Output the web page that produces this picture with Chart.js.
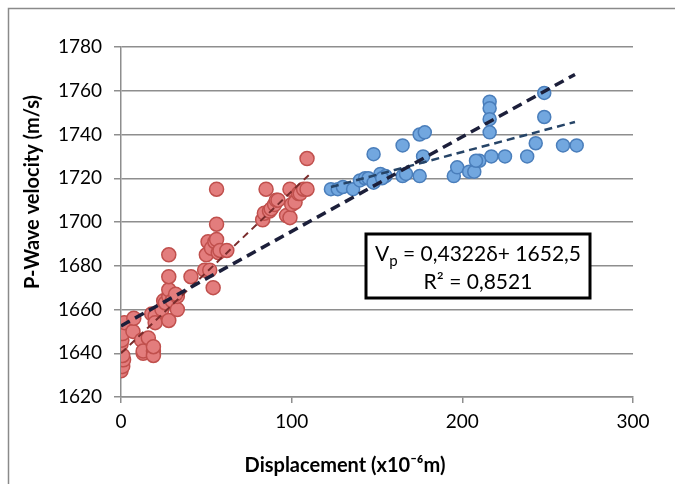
<!DOCTYPE html>
<html>
<head>
<meta charset="utf-8">
<script src="https://cdn.jsdelivr.net/npm/chart.js@4.4.0/dist/chart.umd.min.js"></script>
<style>
  html, body { margin: 0; padding: 0; background: #fff; }
  #wrap { position: relative; width: 675px; height: 484px; }
</style>
</head>
<body>
<div id="wrap"><canvas id="myChart" width="675" height="484"></canvas></div>
<script>
// Red points (early stage)
const redX = [0, 1, 1.5, 1, 0, 0.5, 1, 2, 7, 7.5, 12, 13, 13, 16, 19, 19, 19, 18, 20, 20,
  24, 25, 26, 28, 28, 28, 28, 28, 30, 33, 33, 32, 41, 49, 50, 51, 52, 53, 54, 55,
  56, 56, 56, 57, 58, 62, 83, 84, 85, 87, 88, 90, 91, 92, 97, 99, 99, 100, 102, 104,
  105, 107, 109, 109];
const redY = [1632, 1634, 1637, 1639, 1644, 1646, 1649, 1654, 1650, 1656, 1646, 1640, 1641, 1647, 1641, 1639, 1643, 1658, 1657, 1654,
  1660, 1664, 1663, 1666, 1669, 1675, 1685, 1655, 1664, 1660, 1666, 1667, 1675, 1678, 1685, 1691, 1678, 1688, 1670, 1691,
  1699, 1715, 1692, 1686, 1687, 1687, 1701, 1704, 1715, 1705, 1706, 1708, 1710, 1710, 1703, 1702, 1715, 1708, 1709, 1713,
  1713, 1715, 1715, 1729];

// Blue points (later stage)
const blueX = [123, 127, 130, 136, 140, 143, 145, 148, 148, 152, 155, 153, 165, 165, 167, 175, 175, 178, 177,
  195, 197, 204, 207, 210, 208, 216, 216, 216, 216, 217, 225, 238, 243, 248, 248, 259, 267];
const blueY = [1715, 1715, 1716, 1715, 1719, 1720, 1720, 1731, 1718, 1722, 1721, 1720, 1735, 1721, 1722, 1721, 1740, 1741, 1730,
  1721, 1725, 1723, 1723, 1728, 1728, 1755, 1752, 1747, 1741, 1730, 1730, 1730, 1736, 1759, 1748, 1735, 1735];

// Trend line end points
const fitAllX = [0, 266];
const fitAllY = [1652.5, 1652.5 + 0.4322 * 266];
const fitRedX = [0, 110];
const fitRedY = [1640, 1640 + 0.74 * 110];
const fitBlueX = [123, 266];
const fitBlueY = [1716, 1716 + 0.208 * (266 - 123)];

const yTicks = [1620, 1640, 1660, 1680, 1700, 1720, 1740, 1760, 1780];
const xTicks = [0, 100, 200, 300];

const xTitle = 'Displacement (x10⁻⁶m)';
const yTitle = 'P-Wave velocity (m/s)';

const pts = (xs, ys) => xs.map((x, i) => ({x: x, y: ys[i]}));

const FONT = 'Lato, "Liberation Sans", sans-serif';

// frame, axis titles and the equation box
const extras = {
  id: 'extras',
  beforeDraw(chart) {
    const c = chart.ctx;
    c.save();
    c.strokeStyle = '#8a8a8a';
    c.lineWidth = 1.5;
    c.beginPath();
    c.moveTo(8.5, 484);
    c.lineTo(8.5, 8.5);
    c.lineTo(675, 8.5);
    c.stroke();
    c.restore();
  },
  afterDraw(chart) {
    const c = chart.ctx;
    c.save();
    // axis titles
    c.fillStyle = '#000';
    c.font = 'bold 20px ' + FONT;
    c.textAlign = 'center';
    c.textBaseline = 'middle';
    c.fillText(xTitle, 345, 466);
    c.translate(33, 192);
    c.rotate(-Math.PI / 2);
    c.fillText(yTitle, 0, 0);
    c.restore();

    c.save();
    c.fillStyle = '#fff';
    c.fillRect(366, 234, 224, 64);
    c.strokeStyle = '#000';
    c.lineWidth = 3;
    c.strokeRect(366, 234, 224, 64);
    c.fillStyle = '#000';
    c.textBaseline = 'alphabetic';
    // line 1 with subscript
    const big = '21px ' + FONT, small = '15px ' + FONT;
    const a = 'V', b = 'p', d = ' = 0,4322δ+ 1652,5';
    c.font = big; const wa = c.measureText(a).width, wd = c.measureText(d).width;
    c.font = small; const wb = c.measureText(b).width;
    let x = 478 - (wa + wb + wd) / 2;
    c.font = big; c.fillText(a, x, 261); x += wa;
    c.font = small; c.fillText(b, x, 266); x += wb;
    c.font = big; c.fillText(d, x, 261);
    c.textAlign = 'center';
    c.fillText('R² = 0,8521', 478, 289);
    c.restore();
  }
};

const config = {
  type: 'scatter',
  data: {
    datasets: [
      {
        type: 'line', data: pts(fitAllX, fitAllY), borderColor: '#1c1f3a', borderWidth: 3.5,
        borderDash: [10, 6], pointRadius: 0, fill: false, order: 0
      },
      {
        type: 'line', data: pts(fitRedX, fitRedY), borderColor: '#7a2c2c', borderWidth: 2,
        borderDash: [7, 5], pointRadius: 0, fill: false, order: 0
      },
      {
        type: 'line', data: pts(fitBlueX, fitBlueY), borderColor: '#264467', borderWidth: 2.5,
        borderDash: [8, 5], pointRadius: 0, fill: false, order: 0
      },
      {
        data: pts(redX, redY), backgroundColor: '#e37d7d', borderColor: '#c0504d',
        borderWidth: 1.5, pointRadius: 7, order: 1
      },
      {
        data: pts(blueX, blueY), backgroundColor: '#72a7df', borderColor: '#4a7ebb',
        borderWidth: 1.5, pointRadius: 6.5, order: 1
      }
    ]
  },
  options: {
    responsive: false,
    animation: false,
    layout: { padding: { top: 47, right: 42, left: 0, bottom: 0 } },
    plugins: { legend: { display: false }, tooltip: { enabled: false } },
    scales: {
      x: {
        type: 'linear', min: 0, max: 300,
        afterBuildTicks: s => { s.ticks = xTicks.map(v => ({value: v})); },
        afterFit: s => { s.height = 87; },
        ticks: { color: '#000', font: { family: FONT, size: 19 }, padding: 7, callback: v => String(v) },
        grid: { drawOnChartArea: false, drawTicks: true, tickLength: 6, color: '#8e8e8e', lineWidth: 1.5 },
        border: { color: '#8e8e8e', width: 1.5 }
      },
      y: {
        type: 'linear', min: 1620, max: 1780,
        afterBuildTicks: s => { s.ticks = yTicks.map(v => ({value: v})); },
        afterFit: s => { s.width = 121; },
        ticks: { color: '#000', font: { family: FONT, size: 19 }, padding: 12, callback: v => String(v) },
        grid: { drawTicks: true, tickLength: 7, color: '#8e8e8e', lineWidth: 1.5 },
        border: { color: '#8e8e8e', width: 1.5 }
      }
    }
  },
  plugins: [extras]
};

const myChart = new Chart(document.getElementById('myChart'), config);
</script>
</body>
</html>
